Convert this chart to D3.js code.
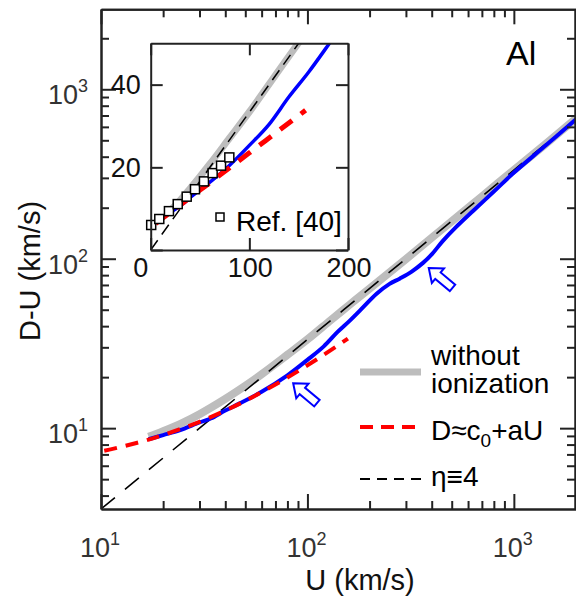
<!DOCTYPE html>
<html><head><meta charset="utf-8">
<script src="https://cdn.jsdelivr.net/npm/d3@7"></script>
<style>
body{margin:0;background:#fff;}
svg{display:block;font-family:"Liberation Sans",Arial,Helvetica,sans-serif;}
</style></head>
<body><svg id="c" width="576" height="600"></svg>
<script>
// ---------------- data ----------------
const grayU = [17,20,25,30,40,50,60,80,100,130,160,200,300,400,500,700,1000,1400,2000];
const grayV = [8.9,9.6,10.8,12.1,14.9,17.8,20.8,27.1,33.4,43.5,53.5,66.5,99.5,133,166,233,334,467,672];
const blueU = [17,20,24,30,34,40,47,60,80,100,120,140,160,180,217,250,281,320,363,400,452,520,636,800,986,1387,2000];
const blueV = [8.6,9.1,9.7,10.8,11.4,12.7,14.0,16.4,20.5,25.3,30.4,37.0,43.0,49.6,62.3,71.0,76.5,84,94.5,106,127,152,192,249,317,453,665];
const fitU = [5,10,15,20,30,40,50,60,80,100,120,140,157];
const fitV = [6.4,7.3,8.2,9.1,10.9,12.7,14.5,16.3,19.9,23.5,27.1,30.7,33.8];
const etaU = [0,10,150,2000];
const etaV = [0,3.333,50,666.7];
const refU = [0.5,8.7,18.5,27.4,36.5,44.9,54,62.8,71.3,79.7];
const refV = [6.05,7.5,9.4,11.1,12.9,14.7,16.6,18.6,20.4,22.4];
const arrowU = [85.3,387];
const arrowV = [18.4,88.2];

const mainMajor = [10,100,1000];
const mainExp = ["1","2","3"];
const mainXMinor = [20,30,40,50,60,70,80,90,200,300,400,500,600,700,800,900,2000];
const mainYMinor = [4,5,6,7,8,9,20,30,40,50,60,70,80,90,200,300,400,500,600,700,800,900,2000];
const insetXTicks = [0,100,200];
const insetYTicks = [0,20,40];
const insetXLabels = ["0","100","200"];
const insetYLabels = ["","20","40"];

// ---------------- setup ----------------
const svg = d3.select("#c");
const AX = "#222";
const BLUE = "#0000ff", RED = "#ff0000", GRAY = "#bdbdbd";

const L = 101, R = 576, T = 9.3, B = 509;
const x = d3.scaleLog().domain([10,2000]).range([L,R]);
const y = d3.scaleLog().domain([10/3,2965]).range([B,T]);

svg.append("defs").append("clipPath").attr("id","mainclip")
  .append("rect").attr("x",L).attr("y",T).attr("width",R-L).attr("height",B-T);

const toPts = (U,V)=>U.map((u,i)=>[u,V[i]]);
const lineMain = d3.line().x(d=>x(d[0])).y(d=>y(d[1])).curve(d3.curveCatmullRom.alpha(0.5));

const gm = svg.append("g").attr("clip-path","url(#mainclip)");
gm.append("path").datum(toPts(grayU,grayV)).attr("d",lineMain)
  .attr("fill","none").attr("stroke",GRAY).attr("stroke-width",8);
gm.append("path").datum(toPts(etaU,etaV).filter(d=>d[0]>0)).attr("d",d3.line().x(d=>x(d[0])).y(d=>y(d[1])))
  .attr("fill","none").attr("stroke","#000").attr("stroke-width",1.6).attr("stroke-dasharray","18,13");
gm.append("path").datum(toPts(blueU,blueV)).attr("d",lineMain)
  .attr("fill","none").attr("stroke",BLUE).attr("stroke-width",4);
gm.append("path").datum(toPts(fitU,fitV)).attr("d",lineMain)
  .attr("fill","none").attr("stroke",RED).attr("stroke-width",4).attr("stroke-dasharray","13,9");

// arrows
const arrowShape = "M0,0 L12,-9.5 L12,-4.2 L31,-4.2 L31,4.2 L12,4.2 L12,9.5 Z";
arrowU.forEach((u,i)=>{
  svg.append("path").attr("d",arrowShape)
    .attr("transform",`translate(${x(u)},${y(arrowV[i])}) rotate(40)`)
    .attr("fill","#fff").attr("stroke",BLUE).attr("stroke-width",2).attr("stroke-linejoin","miter");
});

// main axes
function styleAxis(g){
  g.select(".domain").attr("stroke",AX).attr("stroke-width",2);
  g.selectAll(".tick line").attr("stroke",AX).attr("stroke-width",2);
  g.selectAll(".tick text").remove();
}
const ax = [
  [d3.axisBottom(x), `translate(0,${B})`],
  [d3.axisTop(x), `translate(0,${T})`],
];
ax.forEach(([a,tr])=>{
  svg.append("g").attr("transform",tr).call(a.tickValues(mainXMinor).tickSize(-8).tickSizeOuter(0).tickFormat(()=>"")).call(styleAxis);
  svg.append("g").attr("transform",tr).call(a.tickValues(mainMajor).tickSize(-15).tickSizeOuter(0).tickFormat(()=>"")).call(styleAxis);
});
const ay = [
  [d3.axisLeft(y), `translate(${L},0)`],
  [d3.axisRight(y), `translate(575,0)`],
];
ay.forEach(([a,tr])=>{
  svg.append("g").attr("transform",tr).call(a.tickValues(mainYMinor).tickSize(-8).tickSizeOuter(0).tickFormat(()=>"")).call(styleAxis);
  svg.append("g").attr("transform",tr).call(a.tickValues(mainMajor).tickSize(-15).tickSizeOuter(0).tickFormat(()=>"")).call(styleAxis);
});

// main tick labels
mainMajor.forEach((v,i)=>{
  const t = svg.append("text").attr("x",x(v)-1).attr("y",B+48).attr("text-anchor","middle")
    .attr("font-size",27).attr("fill","#333");
  t.append("tspan").text("10");
  t.append("tspan").attr("font-size",18).attr("dy",-12).text(mainExp[i]);
  const s = svg.append("text").attr("x",88).attr("y",y(v)+15).attr("text-anchor","end")
    .attr("font-size",27).attr("fill","#333");
  s.append("tspan").text("10");
  s.append("tspan").attr("font-size",18).attr("dy",-12).text(mainExp[i]);
});

// axis titles
svg.append("text").attr("x",360).attr("y",590).attr("text-anchor","middle")
  .attr("font-size",29).attr("fill","#111").text("U (km/s)");
svg.append("text").attr("transform","translate(40,271) rotate(-90)").attr("text-anchor","middle")
  .attr("font-size",29).attr("fill","#111").text("D-U (km/s)");

// Al
svg.append("text").attr("x",506).attr("y",65).attr("font-size",34).attr("fill","#000").text("Al");

// legend
svg.append("line").attr("x1",360).attr("x2",421).attr("y1",372).attr("y2",372)
  .attr("stroke",GRAY).attr("stroke-width",7);
svg.append("text").attr("x",431).attr("y",365).attr("font-size",28).attr("fill","#000").text("without");
svg.append("text").attr("x",431).attr("y",393).attr("font-size",28).attr("fill","#000").text("ionization");
svg.append("line").attr("x1",360).attr("x2",421).attr("y1",427).attr("y2",427)
  .attr("stroke",RED).attr("stroke-width",4).attr("stroke-dasharray","13,8");
const lt = svg.append("text").attr("x",431).attr("y",440).attr("font-size",28).attr("fill","#000");
lt.append("tspan").text("D≈c");
lt.append("tspan").attr("font-size",19).attr("dy",7).text("0");
lt.append("tspan").attr("dy",-7).text("+aU");
svg.append("line").attr("x1",360).attr("x2",421).attr("y1",479).attr("y2",479)
  .attr("stroke","#000").attr("stroke-width",2).attr("stroke-dasharray","10,7");
svg.append("text").attr("x",431).attr("y",486).attr("font-size",28).attr("fill","#000").text("η≡4");

// ---------------- inset ----------------
const iL = 150.7, iR = 348, iT = 43.3, iB = 250;
const xi = d3.scaleLinear().domain([0,200]).range([iL,iR]);
const yi = d3.scaleLinear().domain([0,50]).range([iB,iT]);
svg.append("rect").attr("x",iL).attr("y",iT).attr("width",iR-iL).attr("height",iB-iT).attr("fill","#fff");
svg.select("defs").append("clipPath").attr("id","iclip")
  .append("rect").attr("x",iL).attr("y",iT).attr("width",iR-iL).attr("height",iB-iT);
const lineIn = d3.line().x(d=>xi(d[0])).y(d=>yi(d[1])).curve(d3.curveMonotoneX);
const gi = svg.append("g").attr("clip-path","url(#iclip)");
gi.append("path").datum(toPts(grayU,grayV)).attr("d",lineIn)
  .attr("fill","none").attr("stroke",GRAY).attr("stroke-width",7);
gi.append("path").datum(toPts(etaU,etaV)).attr("d",d3.line().x(d=>xi(d[0])).y(d=>yi(d[1])))
  .attr("fill","none").attr("stroke","#000").attr("stroke-width",1.5).attr("stroke-dasharray","12,7");
gi.append("path").datum(toPts(blueU,blueV)).attr("d",lineIn)
  .attr("fill","none").attr("stroke",BLUE).attr("stroke-width",3.5);
gi.append("path").datum(toPts(fitU,fitV)).attr("d",lineIn)
  .attr("fill","none").attr("stroke",RED).attr("stroke-width",5).attr("stroke-dasharray","15,11");
svg.append("g").selectAll("rect").data(toPts(refU,refV)).join("rect")
  .attr("x",d=>xi(d[0])-4.5).attr("y",d=>yi(d[1])-4.5).attr("width",9).attr("height",9)
  .attr("fill","#fff").attr("stroke","#000").attr("stroke-width",1.5);

function styleI(g){
  g.select(".domain").attr("stroke",AX).attr("stroke-width",2);
  g.selectAll(".tick line").attr("stroke",AX).attr("stroke-width",2);
  g.selectAll(".tick text").remove();
}
svg.append("g").attr("transform",`translate(0,${iB})`).call(d3.axisBottom(xi).tickValues(insetXTicks).tickSize(-12).tickSizeOuter(0)).call(styleI);
svg.append("g").attr("transform",`translate(0,${iT})`).call(d3.axisTop(xi).tickValues(insetXTicks).tickSize(-12).tickSizeOuter(0)).call(styleI);
svg.append("g").attr("transform",`translate(${iL},0)`).call(d3.axisLeft(yi).tickValues(insetYTicks).tickSize(-12).tickSizeOuter(0)).call(styleI);
svg.append("g").attr("transform",`translate(${iR},0)`).call(d3.axisRight(yi).tickValues(insetYTicks).tickSize(-12).tickSizeOuter(0)).call(styleI);

insetXTicks.forEach((v,i)=>{
  svg.append("text").attr("x",xi(v)+(v===0?-10:1)).attr("y",iB+27).attr("text-anchor","middle")
    .attr("font-size",27).attr("fill","#111").text(insetXLabels[i]);
});
insetYTicks.forEach((v,i)=>{
  if(!insetYLabels[i]) return;
  svg.append("text").attr("x",iL-10).attr("y",yi(v)+9.5).attr("text-anchor","end")
    .attr("font-size",27).attr("fill","#111").text(insetYLabels[i]);
});
// inset legend
svg.append("rect").attr("x",216).attr("y",213).attr("width",8).attr("height",8)
  .attr("fill","#fff").attr("stroke","#000").attr("stroke-width",1.5);
svg.append("text").attr("x",236).attr("y",231).attr("font-size",28).attr("fill","#000").text("Ref. [40]");
</script>
</body></html>
